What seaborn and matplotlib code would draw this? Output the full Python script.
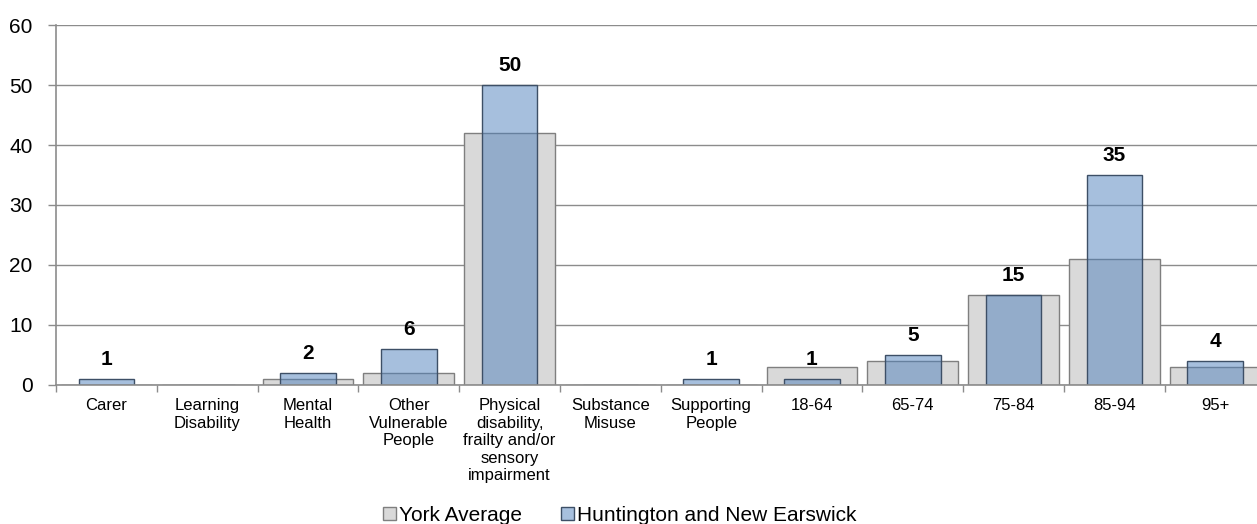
import matplotlib
matplotlib.use("Agg")
import matplotlib.pyplot as plt
import seaborn as sns
import pandas as pd
from matplotlib.patches import Patch
from matplotlib.ticker import FixedLocator

categories = ["Carer", "Learning\nDisability", "Mental\nHealth", "Other\nVulnerable\nPeople",
              "Physical\ndisability,\nfrailty and/or\nsensory\nimpairment", "Substance\nMisuse",
              "Supporting\nPeople", "18-64", "65-74", "75-84", "85-94", "95+"]
york_average = [0, 0, 1, 2, 42, 0, 0, 3, 4, 15, 21, 3]
huntington = [1, 0, 2, 6, 50, 0, 1, 1, 5, 15, 35, 4]
y_ticks = [0, 10, 20, 30, 40, 50, 60]

sns.set_theme(style="white")
plt.rcParams['font.family'] = ['Liberation Sans', 'DejaVu Sans']
plt.rcParams['text.color'] = 'black'

df = pd.DataFrame({"category": categories, "york": york_average, "hunt": huntington})

fig = plt.figure(figsize=(12.57, 5.24), dpi=100)
ax = fig.add_axes([56/1257, 139.5/524, 1209.6/1257, 359.2/524])

grid_c = "#8c8c8c"
ax.set_axisbelow(True)
ax.yaxis.grid(True, color=grid_c, linewidth=1)

sns.barplot(data=df, x="category", y="york", color="#d9d9d9", saturation=1, width=0.9,
            edgecolor="#7f7f7f", linewidth=1, ax=ax)
sns.barplot(data=df, x="category", y="hunt", color="#4f81bd", saturation=1, width=0.55,
            edgecolor="#3d4f66", linewidth=1, ax=ax)
for p in ax.containers[1]:
    p.set_facecolor((79/255, 129/255, 189/255, 0.5))

ax.bar_label(ax.containers[1], labels=[str(v) if v > 0 else "" for v in huntington],
             padding=7, fontsize=15, fontweight="bold", color="black")

ax.set_xlim(-0.5, 11.5)
ax.set_ylim(0, 60)
ax.set_yticks(y_ticks)
ax.set_xlabel("")
ax.set_ylabel("")
ax.tick_params(axis="y", labelsize=15, length=6, width=1, color=grid_c, pad=11, left=True,
               labelcolor="black")
ax.tick_params(axis="x", which="major", labelsize=12, length=0, pad=10, labelcolor="black")
ax.xaxis.set_minor_locator(FixedLocator([i - 0.5 for i in range(13)]))
ax.tick_params(axis="x", which="minor", length=5, width=1, color=grid_c, bottom=True)
for lab in ax.get_xticklabels():
    lab.set_linespacing(1.2)
    lab.set_va("top")

for s in ["top", "right"]:
    ax.spines[s].set_visible(False)
for s in ["left", "bottom"]:
    ax.spines[s].set_color(grid_c)
    ax.spines[s].set_linewidth(1.2)

handles = [Patch(facecolor="#d9d9d9", edgecolor="#7f7f7f", label="York Average"),
           Patch(facecolor="#a7c0de", edgecolor="#3d4f66", label="Huntington and New Earswick")]
leg = fig.legend(handles=handles, loc="center", bbox_to_anchor=(0.493, 0.017), ncol=2, frameon=False,
                 fontsize=15, handlelength=0.6, handleheight=0.6, handletextpad=0.15,
                 columnspacing=1.9, borderpad=0)
for t in leg.get_texts():
    t.set_color("black")

fig.savefig("out.png", dpi=100)
